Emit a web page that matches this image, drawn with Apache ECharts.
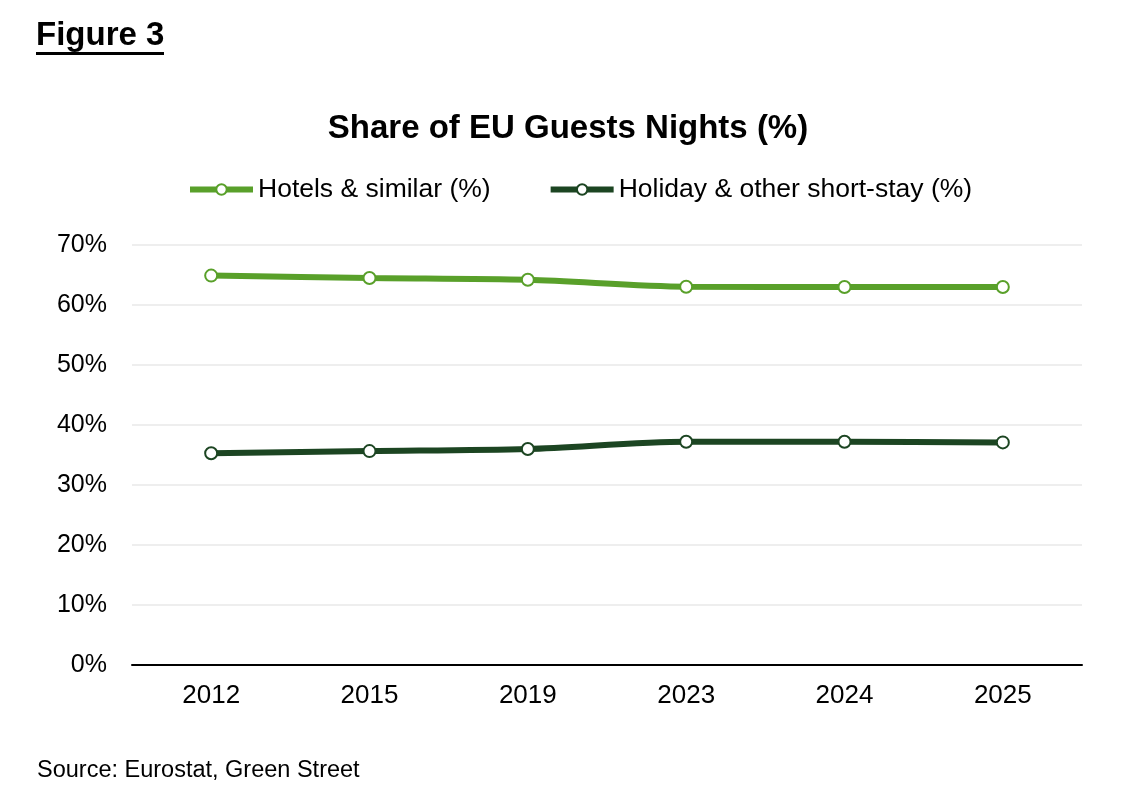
<!DOCTYPE html>
<html>
<head>
<meta charset="utf-8">
<script src="https://cdn.jsdelivr.net/npm/echarts@6/dist/echarts.min.js"></script>
<style>
html, body { margin: 0; padding: 0; background: #fff; }
#main { width: 1136px; height: 800px; }
</style>
</head>
<body>
<div id="main"></div>
<script>
const years = ["2012", "2015", "2019", "2023", "2024", "2025"];
const hotels = [64.9, 64.5, 64.2, 63.05, 63.0, 63.0];
const holiday = [35.3, 35.65, 36.0, 37.2, 37.2, 37.1];
const yTicks = [0, 10, 20, 30, 40, 50, 60, 70];

const font = "Liberation Sans, Arial, sans-serif";
const green = "#59a02a";
const dark = "#1c4522";

var mychart = echarts.init(document.getElementById("main"));

function makeSeries(name, data, color){
	return {
		name: name, type: "line", data: data, smooth: 0.3,
		symbol: "circle", symbolSize: 12,
		lineStyle: {color: color, width: 6},
		itemStyle: {color: "#fff", borderColor: color, borderWidth: 2},
		emphasis: {disabled: true}
	};
}

const option = {
	animation: false,
	textStyle: {fontFamily: font},
	title: {
		text: "Share of EU Guests Nights (%)", left: "center", top: 107,
		textStyle: {fontSize: 33, fontWeight: "bold", color: "#000", fontFamily: font}
	},
	legend: {
		top: 171, left: 182, itemGap: 57, itemWidth: 63, itemHeight: 13,
		lineStyle: {width: 6},
		textStyle: {fontSize: 26.5, color: "#000", fontFamily: font},
		data: ["Hotels & similar (%)", "Holiday & other short-stay (%)"]
	},
	grid: {left: 132, right: 54, top: 245, bottom: 135},
	xAxis: {
		type: "category", data: years,
		axisLine: {lineStyle: {color: "#000", width: 2}},
		axisTick: {show: false},
		axisLabel: {fontSize: 26, color: "#000", margin: 18, fontFamily: font}
	},
	yAxis: {
		type: "value", min: yTicks[0], max: yTicks[yTicks.length - 1], interval: 10,
		axisLabel: {fontSize: 25, color: "#000", formatter: "{value}%", margin: 25, fontFamily: font},
		splitLine: {lineStyle: {color: "#e9e9e9", width: 1.5}},
		axisLine: {show: false}, axisTick: {show: false}
	},
	graphic: [
		{type: "text", left: 36, top: 19, style: {text: "Figure 3", fontSize: 33, fontWeight: "bold", fill: "#000", fontFamily: font}},
		{type: "rect", left: 36, top: 52, shape: {width: 128, height: 3}, style: {fill: "#000"}},
		{type: "text", left: 37, top: 759, style: {text: "Source: Eurostat, Green Street", fontSize: 23.5, fill: "#000", fontFamily: font}}
	],
	series: [
		makeSeries("Hotels & similar (%)", hotels, green),
		makeSeries("Holiday & other short-stay (%)", holiday, dark)
	]
};
mychart.setOption(option);
</script>
</body>
</html>
